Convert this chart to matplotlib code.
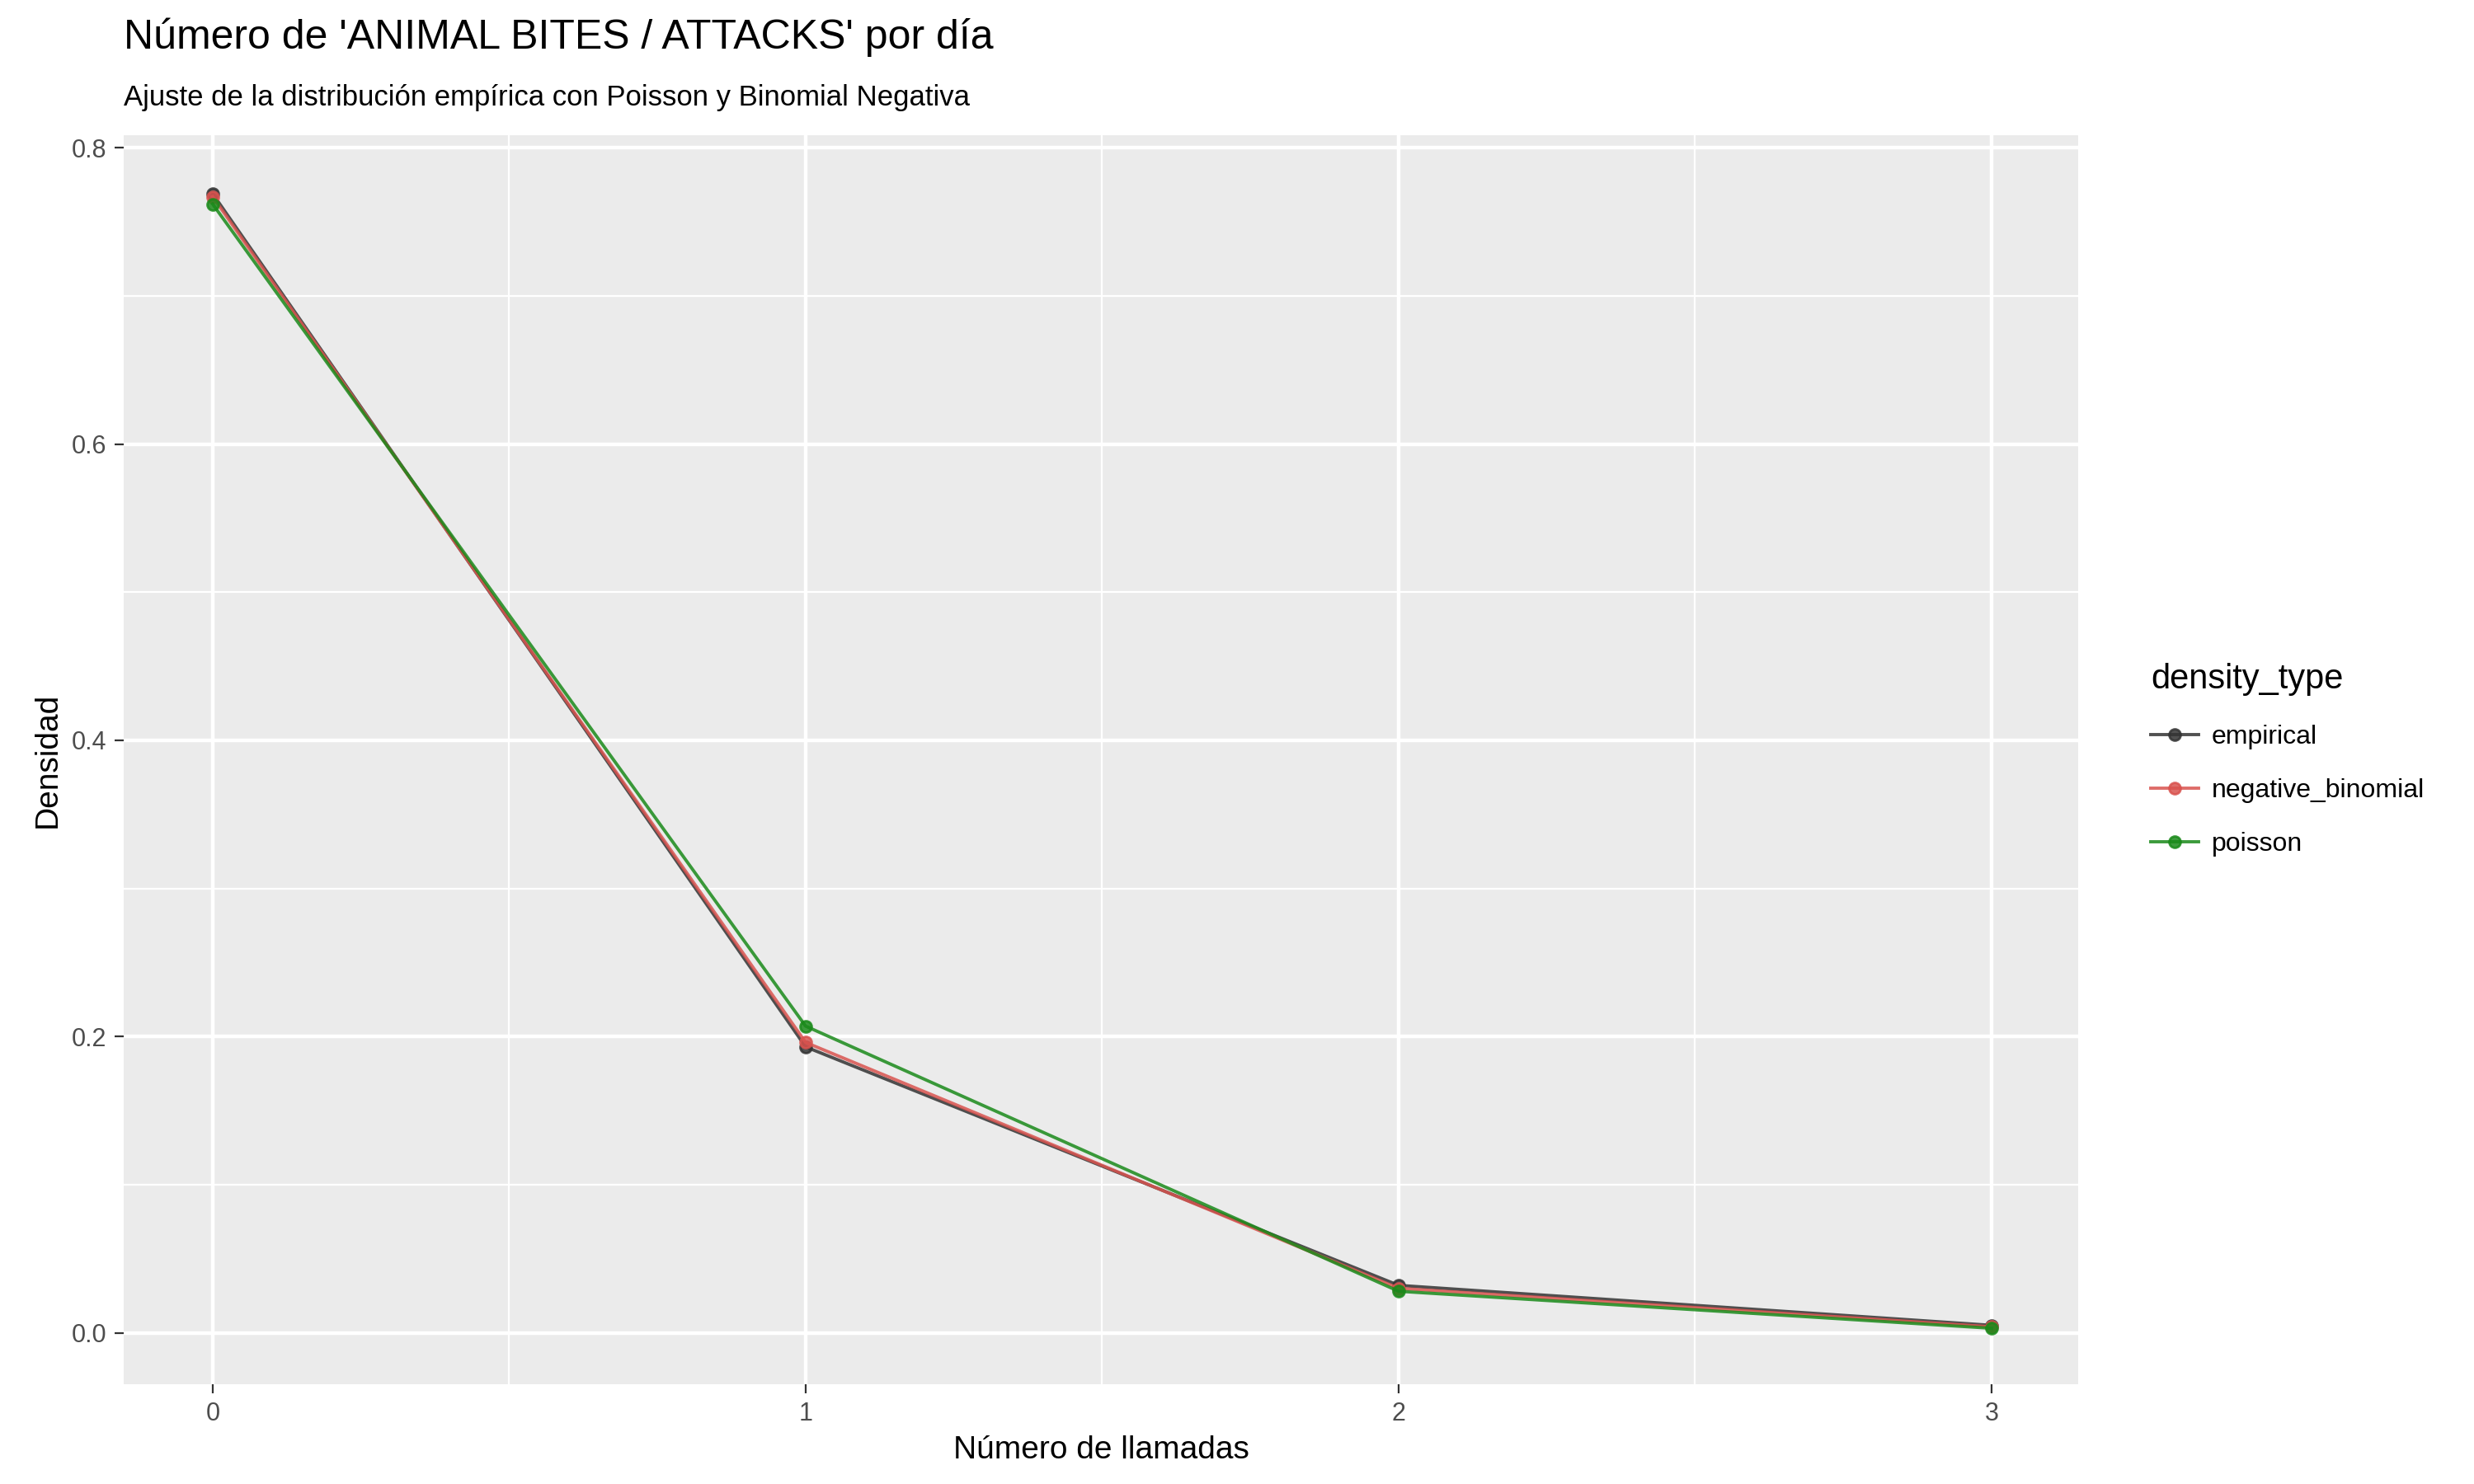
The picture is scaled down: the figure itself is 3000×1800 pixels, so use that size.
import matplotlib.pyplot as plt
import numpy as np

llamadas = [0, 1, 2, 3]
empirical = [0.769, 0.193, 0.032, 0.005]
negative_binomial = [0.767, 0.196, 0.030, 0.004]
poisson = [0.762, 0.207, 0.028, 0.003]

series = [
    ('empirical', empirical, '#333333'),
    ('negative_binomial', negative_binomial, '#D9534F'),
    ('poisson', poisson, '#1A8A1A'),
]

plt.rcParams['font.family'] = ['Liberation Sans', 'DejaVu Sans']

fig = plt.figure(figsize=(15, 9), dpi=200)
ax = fig.add_axes([0.05, 0.067, 0.79, 0.842])
ax.set_facecolor('#EBEBEB')
for s in ax.spines.values():
    s.set_visible(False)

ax.set_xlim(-0.15, 3.146)
ax.set_ylim(-0.035, 0.8086)
ax.set_xticks(llamadas)
ax.set_yticks([0.0, 0.2, 0.4, 0.6, 0.8])
ax.set_yticklabels(['0.0', '0.2', '0.4', '0.6', '0.8'])
ax.set_xticks([0.5, 1.5, 2.5], minor=True)
ax.set_yticks([0.1, 0.3, 0.5, 0.7], minor=True)
ax.grid(which='major', color='white', linewidth=1.6)
ax.grid(which='minor', color='white', linewidth=0.8)
ax.set_axisbelow(True)
ax.tick_params(which='major', length=4, color='#333333', labelsize=11, labelcolor='#4D4D4D')
ax.tick_params(which='minor', length=0)

for nombre, vals, color in series:
    ax.plot(llamadas, vals, color=color, linewidth=1.4, marker='o', markersize=5,
            markerfacecolor=color, markeredgecolor=color, alpha=0.85, label=nombre)

ax.set_xlabel('Número de llamadas', fontsize=14)
ax.set_ylabel('Densidad', fontsize=14)
fig.text(0.05, 0.975, "Número de 'ANIMAL BITES / ATTACKS' por día", fontsize=18, va='center')
fig.text(0.05, 0.934, 'Ajuste de la distribución empírica con Poisson y Binomial Negativa', fontsize=12.5, va='center')

leg = ax.legend(title='density_type', loc='center left', bbox_to_anchor=(1.025, 0.5),
                frameon=False, fontsize=11.5, title_fontsize=15, handlelength=1.8,
                labelspacing=1.1, handletextpad=0.5)
leg._legend_box.align = 'left'
for h in leg.legend_handles:
    h.set_alpha(0.85)

fig.savefig('out.png', dpi=200)
